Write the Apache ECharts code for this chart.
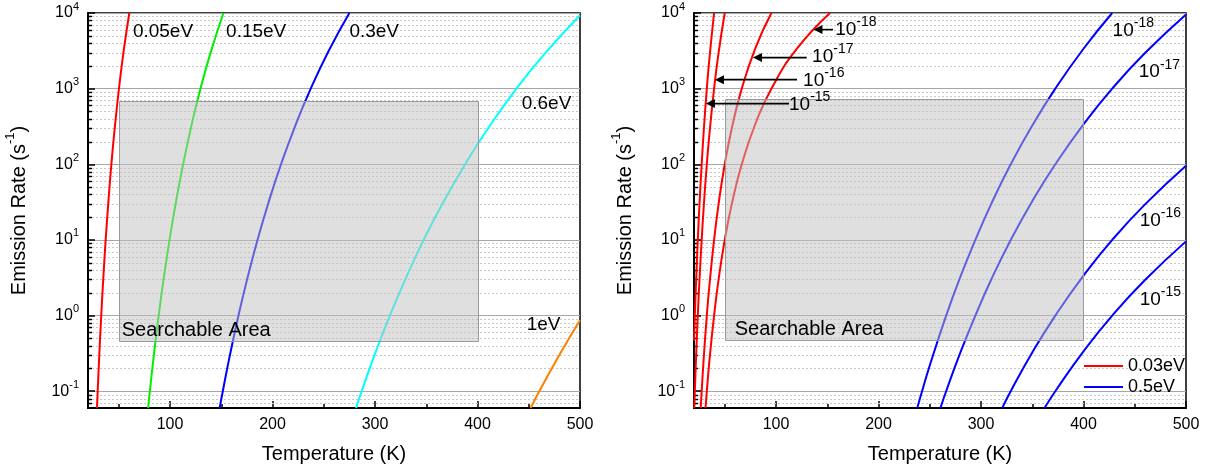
<!DOCTYPE html>
<html>
<head>
<meta charset="utf-8">
<script src="https://cdn.jsdelivr.net/npm/echarts@6/dist/echarts.min.js"></script>
<style>
  html, body { margin: 0; padding: 0; background: #fff; }
  #chart { width: 1205px; height: 469px; }
</style>
</head>
<body>
<div id="chart"></div>
<script>
// Emission rate (s^-1) versus temperature (K), points given as [T, rate].

// Left panel: one capture cross-section, five activation energies.
const rate005eV = [[28.77, 0.06], [29.45, 0.1], [31, 0.298], [32.9, 1], [35, 3.22], [37.25, 10], [40, 33.4], [42.8, 100], [46, 293], [50.2, 1000], [55, 3300], [60.3, 10000]];
const rate015eV = [[78.65, 0.06], [80.35, 0.1], [84, 0.281], [88.95, 1], [94, 3.19], [99.55, 10], [106, 33], [112.8, 100], [121, 329], [129.7, 1000], [140, 3107], [152.1, 10000]];
const rate03eV = [[148.45, 0.06], [151.5, 0.1], [158, 0.28], [166.8, 1], [175, 2.92], [185.35, 10], [196, 30.9], [208.3, 100], [222, 318], [237.3, 1000], [255, 3190], [275, 10000]];
const rate06eV = [[281.5, 0.06], [287, 0.1], [300, 0.312], [314.5, 1], [330, 3.11], [347.5, 10], [365, 28.8], [388, 100], [410, 295], [438, 1000], [465, 2830], [500, 9330]];
const rate1eV = [[451.8, 0.06], [460.3, 0.1], [480, 0.304], [500, 0.867]];

// Right panel, 0.03 eV family (red), labelled by cross-section.
const red15 = [[20, 0.467], [20.8, 1], [22, 2.75], [23.7, 10], [25.5, 32.3], [27.5, 100], [29.5, 275], [32.5, 1000], [35, 2470], [39.6, 10000]];
const red16 = [[20.27, 0.06], [20.8, 0.1], [22, 0.275], [23.7, 1], [25.5, 3.23], [27.5, 10], [29.5, 27.5], [32.5, 100], [35, 247], [39.6, 1000], [44, 2985], [50, 10000]];
const red17 = [[26.55, 0.06], [27.5, 0.1], [29.5, 0.275], [32.5, 1], [35, 2.47], [39.6, 10], [44, 30], [50, 100], [57, 304], [66.6, 1000], [80, 3460], [95.5, 10000]];
const red18 = [[31.26, 0.06], [32.5, 0.1], [35, 0.25], [39.6, 1], [44, 3], [50, 10], [57, 30.4], [66.6, 100], [80, 346], [95.5, 1000], [120, 3320], [152.7, 10000]];

// Right panel, 0.5 eV family (blue).
const blue18 = [[237.8, 0.06], [242.5, 0.1], [250, 0.2185], [266, 1], [280, 3.29], [294.5, 10], [310, 30], [329, 100], [350, 325], [372.5, 1000], [400, 3370], [428, 10000]];
const blue17 = [[260.4, 0.06], [266, 0.1], [280, 0.329], [294.5, 1], [310, 3.0], [329, 10], [350, 32.5], [372.5, 100], [400, 337], [428, 1000], [460, 2955], [500, 9570]];
const blue16 = [[320.7, 0.06], [329, 0.1], [350, 0.325], [372.5, 1], [400, 3.37], [428, 10], [460, 29.5], [500, 95.7]];
const blue15 = [[362, 0.06], [372.5, 0.1], [400, 0.337], [428, 1], [460, 2.95], [500, 9.57]];

// Shaded "Searchable Area" bounds [T min, rate min, T max, rate max].
const searchAreaLeft = [50, 0.46, 400, 690];
const searchAreaRight = [50, 0.47, 399, 725];

// Axis ranges.
const T_RANGE = [20, 500];
const RATE_RANGE = [0.06, 10000];

const FONT = '"Liberation Sans", Arial, Helvetica, sans-serif';

// Minor decade values 2..9 x 10^k inside the rate range.
const minorRates = [];
for (let k = -2; k <= 3; k++) {
  for (let m = 2; m <= 9; m++) {
    const v = +(m * Math.pow(10, k)).toPrecision(3);
    if (v > RATE_RANGE[0] && v < RATE_RANGE[1]) minorRates.push(v);
  }
}

function powerLabel(v) {
  const e = Math.round(Math.log10(v));
  if (Math.abs(Math.log10(v) - e) > 1e-6) return '';
  return '{b|10}{s|' + e + '}';
}

function xAxisFor(gridIndex) {
  return {
    gridIndex, type: 'value', min: T_RANGE[0], max: T_RANGE[1],
    name: 'Temperature (K)', nameLocation: 'middle', nameGap: 36,
    nameTextStyle: { fontSize: 20, color: '#000', fontFamily: FONT },
    axisLine: { show: true, onZero: false, lineStyle: { color: '#000', width: 2 } },
    axisTick: { show: true, inside: true, length: 7, lineStyle: { color: '#000', width: 1.5 } },
    minorTick: { show: true, splitNumber: 2, length: 4, lineStyle: { color: '#000', width: 1.5 } },
    axisLabel: {
      fontSize: 16, color: '#000', fontFamily: FONT, margin: 9,
      formatter: v => (v % 100 === 0 ? String(v) : '')
    },
    splitLine: { show: false }
  };
}

function yAxisFor(gridIndex) {
  return {
    gridIndex, type: 'log', logBase: 10, min: RATE_RANGE[0], max: RATE_RANGE[1],
    name: 'Emission Rate (s{sup|-1})', nameLocation: 'middle', nameGap: 54, nameRotate: 90,
    nameTextStyle: {
      fontSize: 20, color: '#000', fontFamily: FONT, lineHeight: 30,
      rich: { sup: { fontSize: 13, lineHeight: 13, verticalAlign: 'top', color: '#000', fontFamily: FONT } }
    },
    axisLine: { show: true, onZero: false, lineStyle: { color: '#000', width: 2 } },
    axisTick: { show: true, inside: true, length: 7, lineStyle: { color: '#000', width: 1.5 } },
    axisLabel: {
      margin: 9, color: '#000', fontFamily: FONT,
      formatter: powerLabel,
      rich: {
        b: { fontSize: 16, lineHeight: 24, color: '#000', fontFamily: FONT },
        s: { fontSize: 11, lineHeight: 11, verticalAlign: 'top', color: '#000', fontFamily: FONT }
      }
    },
    splitLine: { show: true, lineStyle: { color: '#a6a6a6', width: 1 } }
  };
}

// Dotted minor grid lines plus short inward ticks on the rate axis.
function minorGridSeries(gridIndex) {
  return {
    type: 'custom', name: 'minor-grid-' + gridIndex,
    xAxisIndex: gridIndex, yAxisIndex: gridIndex,
    silent: true, animation: false, z: 1,
    data: minorRates.map(v => [T_RANGE[0], v]),
    encode: { x: 0, y: 1 },
    renderItem(params, api) {
      const cs = params.coordSys;
      const y = Math.round(api.coord([T_RANGE[0], api.value(1)])[1]) + 0.5;
      return {
        type: 'group',
        children: [
          { type: 'line', shape: { x1: cs.x, y1: y, x2: cs.x + cs.width, y2: y },
            style: { stroke: '#c8c8c8', lineWidth: 1, lineDash: [2, 2] } },
          { type: 'line', shape: { x1: cs.x, y1: y, x2: cs.x + 4, y2: y },
            style: { stroke: '#000', lineWidth: 1.5 } }
        ]
      };
    }
  };
}

function curveSeries(name, data, color, gridIndex) {
  return {
    type: 'line', name, data, xAxisIndex: gridIndex, yAxisIndex: gridIndex,
    showSymbol: false, symbol: 'none', smooth: 0.5,
    silent: true, animation: false, z: 3, clip: true,
    itemStyle: { color }, lineStyle: { color, width: 2 }
  };
}

// Translucent rectangle with its caption near the lower-left corner.
function searchAreaSeries(gridIndex, area, captionOffset) {
  return {
    type: 'custom', name: 'search-area-' + gridIndex,
    xAxisIndex: gridIndex, yAxisIndex: gridIndex,
    silent: true, animation: false, z: 5,
    data: [area],
    encode: { x: [0, 2], y: [1, 3] },
    renderItem(params, api) {
      const p1 = api.coord([api.value(0), api.value(3)]);
      const p2 = api.coord([api.value(2), api.value(1)]);
      return {
        type: 'group',
        children: [
          { type: 'rect',
            shape: { x: Math.round(p1[0]) + 0.5, y: Math.round(p1[1]) + 0.5,
                     width: Math.round(p2[0] - p1[0]), height: Math.round(p2[1] - p1[1]) },
            style: { fill: 'rgba(192,192,192,0.5)', stroke: '#9a9a9a', lineWidth: 1 } },
          { type: 'text', x: p1[0] + captionOffset, y: p2[1] - 1,
            style: { text: 'Searchable Area', fill: '#000', fontSize: 20, fontFamily: FONT,
                     align: 'left', verticalAlign: 'bottom' } }
        ]
      };
    }
  };
}

// Text annotations anchored in data space, left-middle aligned.
const leftNotes = [
  { text: '0.05eV', t: 63.8, rate: 5610 },
  { text: '0.15eV', t: 154.7, rate: 5610 },
  { text: '0.3eV', t: 275, rate: 5700 },
  { text: '0.6eV', t: 443.1, rate: 637 },
  { text: '1eV', t: 448, rate: 0.757 }
];
const rightNotes = [
  { text: '{b|10}{s|-18}', t: 157.7, rate: 6050 },
  { text: '{b|10}{s|-17}', t: 135.2, rate: 2673 },
  { text: '{b|10}{s|-16}', t: 126.4, rate: 1288 },
  { text: '{b|10}{s|-15}', t: 112.7, rate: 620 },
  { text: '{b|10}{s|-18}', t: 428.4, rate: 5900 },
  { text: '{b|10}{s|-17}', t: 453.9, rate: 1668 },
  { text: '{b|10}{s|-16}', t: 454.8, rate: 18.1 },
  { text: '{b|10}{s|-15}', t: 454.8, rate: 1.63 }
];
// Arrows: [tip T, rate, tail T].
const rightArrows = [[136.5, 6030, 155.7], [77.5, 2572, 130], [40.4, 1315, 120.5], [31.6, 634, 112.7]];

function notesSeries(gridIndex, notes) {
  return {
    type: 'custom', name: 'notes-' + gridIndex,
    xAxisIndex: gridIndex, yAxisIndex: gridIndex,
    silent: true, animation: false, z: 6,
    data: notes.map(n => [n.t, n.rate]),
    encode: { x: 0, y: 1 },
    renderItem(params, api) {
      const p = api.coord([api.value(0), api.value(1)]);
      return {
        type: 'text', x: p[0], y: p[1],
        style: {
          text: notes[params.dataIndex].text, fill: '#000', fontSize: 19, fontFamily: FONT,
          align: 'left', verticalAlign: 'middle',
          rich: {
            b: { fontSize: 19, lineHeight: 28, fill: '#000', fontFamily: FONT },
            s: { fontSize: 14, lineHeight: 14, verticalAlign: 'top', fill: '#000', fontFamily: FONT }
          }
        }
      };
    }
  };
}

function arrowSeries(gridIndex, arrows) {
  return {
    type: 'custom', name: 'arrows-' + gridIndex,
    xAxisIndex: gridIndex, yAxisIndex: gridIndex,
    silent: true, animation: false, z: 6,
    data: arrows,
    encode: { x: [0, 2], y: 1 },
    renderItem(params, api) {
      const tip = api.coord([api.value(0), api.value(1)]);
      const tail = api.coord([api.value(2), api.value(1)]);
      const len = 9, half = 4.5;
      return {
        type: 'group',
        children: [
          { type: 'line', shape: { x1: tail[0], y1: tip[1], x2: tip[0] + len - 1, y2: tip[1] },
            style: { stroke: '#000', lineWidth: 1.6 } },
          { type: 'polygon',
            shape: { points: [[tip[0], tip[1]], [tip[0] + len, tip[1] - half], [tip[0] + len, tip[1] + half]] },
            style: { fill: '#000' } }
        ]
      };
    }
  };
}

const chart = echarts.init(document.getElementById('chart'), null, { renderer: 'canvas' });
chart.setOption({
  animation: false,
  backgroundColor: '#fff',
  textStyle: { fontFamily: FONT },
  grid: [
    { left: 88, right: 625, top: 13, bottom: 61, show: true, borderColor: '#000', borderWidth: 1.5, backgroundColor: 'transparent' },
    { left: 694, right: 19, top: 13, bottom: 61, show: true, borderColor: '#000', borderWidth: 1.5, backgroundColor: 'transparent' }
  ],
  xAxis: [xAxisFor(0), xAxisFor(1)],
  yAxis: [yAxisFor(0), yAxisFor(1)],
  legend: {
    data: ['0.03eV', '0.5eV'], orient: 'vertical', left: 1084, top: 357, padding: 0,
    itemWidth: 39, itemHeight: 2, itemGap: 3, icon: 'rect', selectedMode: false,
    textStyle: { fontSize: 18, color: '#000', fontFamily: FONT }
  },
  series: [
    minorGridSeries(0),
    minorGridSeries(1),
    curveSeries('0.05eV', rate005eV, '#ff0000', 0),
    curveSeries('0.15eV', rate015eV, '#00ee00', 0),
    curveSeries('0.3eV', rate03eV, '#0000ff', 0),
    curveSeries('0.6eV', rate06eV, '#00ffff', 0),
    curveSeries('1eV', rate1eV, '#ff8000', 0),
    curveSeries('0.03eV', red15, '#ff0000', 1),
    curveSeries('0.03eV', red16, '#ff0000', 1),
    curveSeries('0.03eV', red17, '#ff0000', 1),
    curveSeries('0.03eV', red18, '#ff0000', 1),
    curveSeries('0.5eV', blue18, '#0000ff', 1),
    curveSeries('0.5eV', blue17, '#0000ff', 1),
    curveSeries('0.5eV', blue16, '#0000ff', 1),
    curveSeries('0.5eV', blue15, '#0000ff', 1),
    searchAreaSeries(0, searchAreaLeft, 3),
    searchAreaSeries(1, searchAreaRight, 10),
    notesSeries(0, leftNotes),
    notesSeries(1, rightNotes),
    arrowSeries(1, rightArrows)
  ]
});
</script>
</body>
</html>
